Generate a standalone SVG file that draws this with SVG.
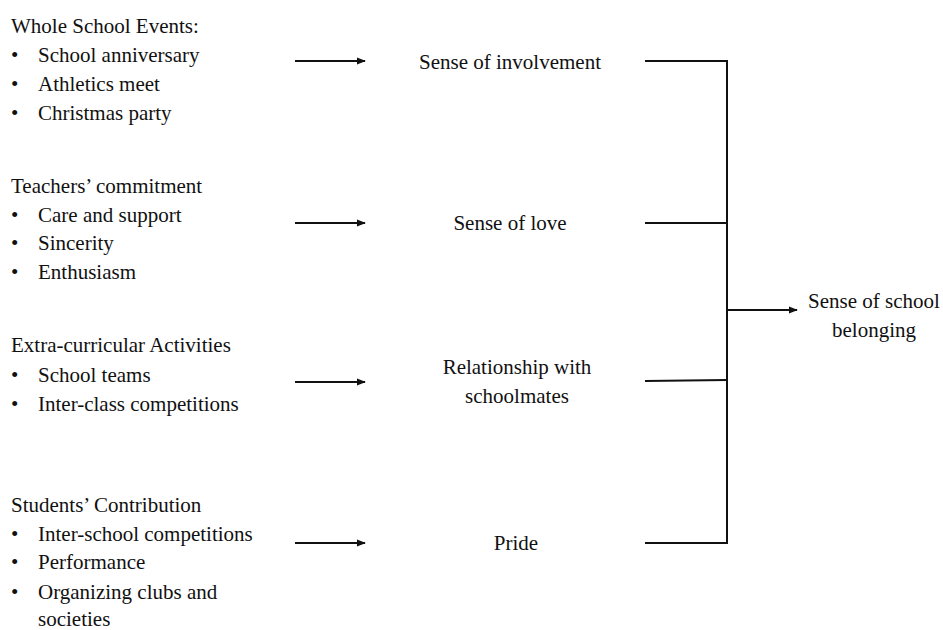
<svg xmlns="http://www.w3.org/2000/svg" width="943" height="630" viewBox="0 0 943 630">
  <style>
    text { font-family: "Liberation Serif", "Times New Roman", serif; font-size: 21px; fill: #111; }
    .c { text-anchor: middle; }
    .ln { stroke: #111; stroke-width: 2; fill: none; }
  </style>
  <defs>
    <marker id="arrow" viewBox="0 0 10 10" refX="9" refY="5" markerWidth="4.5" markerHeight="4.5" orient="auto" markerUnits="strokeWidth">
      <path d="M0,1 L10,5 L0,9 Z" fill="#111"/>
    </marker>
  </defs>
  <rect width="943" height="630" fill="#fff"/>

  <!-- source lists -->
  <g id="events">
    <text x="11" y="33">Whole School Events:</text>
    <text x="11" y="62">•</text><text x="38" y="62">School anniversary</text>
    <text x="11" y="91">•</text><text x="38" y="91">Athletics meet</text>
    <text x="11" y="120">•</text><text x="38" y="120">Christmas party</text>
  </g>
  <g id="teachers">
    <text x="11" y="193">Teachers’ commitment</text>
    <text x="11" y="222">•</text><text x="38" y="222">Care and support</text>
    <text x="11" y="250">•</text><text x="38" y="250">Sincerity</text>
    <text x="11" y="279">•</text><text x="38" y="279">Enthusiasm</text>
  </g>
  <g id="activities">
    <text x="11" y="352">Extra-curricular Activities</text>
    <text x="11" y="382">•</text><text x="38" y="382">School teams</text>
    <text x="11" y="411">•</text><text x="38" y="411">Inter-class competitions</text>
  </g>
  <g id="students">
    <text x="11" y="512">Students’ Contribution</text>
    <text x="11" y="541">•</text><text x="38" y="541">Inter-school competitions</text>
    <text x="11" y="569">•</text><text x="38" y="569">Performance</text>
    <text x="11" y="599">•</text><text x="38" y="599">Organizing clubs and</text>
    <text x="38" y="626">societies</text>
  </g>

  <!-- outcomes -->
  <g id="involvement"><text class="c" x="510" y="69">Sense of involvement</text></g>
  <g id="love"><text class="c" x="510" y="230">Sense of love</text></g>
  <g id="relationship">
    <text class="c" x="517" y="374">Relationship with</text>
    <text class="c" x="517" y="403">schoolmates</text>
  </g>
  <g id="pride"><text class="c" x="516" y="550">Pride</text></g>
  <g id="belonging">
    <text class="c" x="874" y="308">Sense of school</text>
    <text class="c" x="874" y="337">belonging</text>
  </g>

  <!-- connectors -->
  <g id="connectors">
    <line class="ln" x1="295" y1="61" x2="365" y2="61" marker-end="url(#arrow)"/>
    <line class="ln" x1="295" y1="223" x2="365" y2="223" marker-end="url(#arrow)"/>
    <line class="ln" x1="295" y1="382" x2="365" y2="382" marker-end="url(#arrow)"/>
    <line class="ln" x1="295" y1="543" x2="365" y2="543" marker-end="url(#arrow)"/>
    <line class="ln" x1="645" y1="61" x2="727" y2="61"/>
    <line class="ln" x1="645" y1="223" x2="727" y2="223"/>
    <line class="ln" x1="645" y1="381" x2="727" y2="380"/>
    <line class="ln" x1="645" y1="543" x2="727" y2="543"/>
    <line class="ln" x1="727" y1="60" x2="727" y2="544"/>
    <line class="ln" x1="727" y1="310" x2="797" y2="310" marker-end="url(#arrow)"/>
  </g>
</svg>
